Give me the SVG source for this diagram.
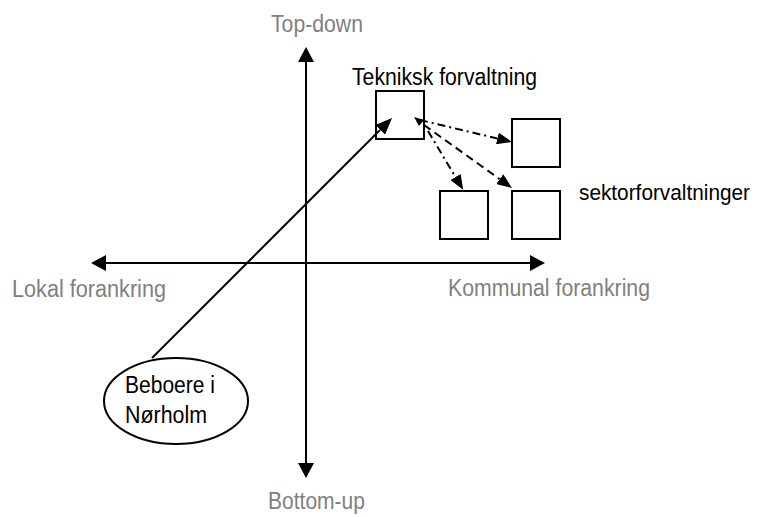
<svg xmlns="http://www.w3.org/2000/svg" width="760" height="517" viewBox="0 0 760 517">
  <style>
    text { font-family: "Liberation Sans Narrow", "Liberation Sans", "Arial Narrow", Arial, sans-serif; font-size: 23.5px; }
    .axis-label { fill: #808080; }
    .label { fill: #000000; }
    .box { fill: #ffffff; stroke: #000000; stroke-width: 2; }
    .axis { stroke: #000000; stroke-width: 2; fill: none; }
    .link { stroke: #000000; stroke-width: 2; fill: none; }
    .dashdot { stroke-dasharray: 8 4 2 4; }
    .dashed { stroke-dasharray: 8 5; }
  </style>
  <defs>
    <marker id="head" viewBox="0 0 15 16" refX="0" refY="8" markerWidth="15" markerHeight="16" markerUnits="userSpaceOnUse" orient="auto-start-reverse">
      <path d="M0,0 L15,8 L0,16 Z" fill="#000000"/>
    </marker>
    <marker id="head-sm" viewBox="0 0 15 12" refX="0" refY="6" markerWidth="15" markerHeight="12" markerUnits="userSpaceOnUse" orient="auto">
      <path d="M0,0 L15,6 L0,12 Z" fill="#000000"/>
    </marker>
    <marker id="head-md" viewBox="0 0 17 14" refX="0" refY="7" markerWidth="17" markerHeight="14" markerUnits="userSpaceOnUse" orient="auto">
      <path d="M0,0 L17,7 L0,14 Z" fill="#000000"/>
    </marker>
  </defs>

  <rect width="760" height="517" fill="#ffffff"/>

  <!-- axes and their labels -->
  <g id="axes">
    <line class="axis" x1="306" y1="62" x2="306" y2="463" marker-start="url(#head)" marker-end="url(#head)"/>
    <line class="axis" x1="106" y1="263" x2="530" y2="263" marker-start="url(#head)" marker-end="url(#head)"/>
    <text class="axis-label" x="271" y="32" textLength="92" lengthAdjust="spacingAndGlyphs">Top-down</text>
    <text class="axis-label" x="268" y="509" textLength="97" lengthAdjust="spacingAndGlyphs">Bottom-up</text>
    <text class="axis-label" x="12" y="297" textLength="154" lengthAdjust="spacingAndGlyphs">Lokal forankring</text>
    <text class="axis-label" x="448" y="296" textLength="202" lengthAdjust="spacingAndGlyphs">Kommunal forankring</text>
  </g>

  <!-- nodes -->
  <g id="teknisk-forvaltning">
    <rect class="box" x="376" y="91" width="48" height="48"/>
    <text class="label" x="352" y="85" textLength="185" lengthAdjust="spacingAndGlyphs">Tekniksk forvaltning</text>
  </g>
  <g id="sektor-1">
    <rect class="box" x="512" y="119" width="48" height="48"/>
  </g>
  <g id="sektor-2">
    <rect class="box" x="440" y="191" width="48" height="48"/>
  </g>
  <g id="sektor-3">
    <rect class="box" x="512" y="191" width="48" height="48"/>
  </g>
  <g id="sektorforvaltninger-label">
    <text class="label" x="579" y="200" style="font-size:21.5px" textLength="171" lengthAdjust="spacingAndGlyphs">sektorforvaltninger</text>
  </g>
  <g id="beboere">
    <ellipse cx="176" cy="401" rx="72" ry="43" fill="#ffffff" stroke="#000000" stroke-width="2"/>
    <text class="label" x="125" y="393" textLength="90" lengthAdjust="spacingAndGlyphs">Beboere i</text>
    <text class="label" x="125" y="423" textLength="82" lengthAdjust="spacingAndGlyphs">Nørholm</text>
  </g>

  <!-- connectors, drawn over the boxes so the heads stay visible -->
  <g id="connectors">
    <line class="link" x1="152" y1="358" x2="380" y2="130" marker-end="url(#head-md)"/>
    <line class="link dashdot" x1="420" y1="120" x2="497.4" y2="138.5" marker-end="url(#head-sm)"/>
    <line class="link dashdot" x1="428" y1="131" x2="455.5" y2="177" marker-end="url(#head-sm)"/>
    <line class="link dashed" x1="424" y1="125" x2="499.8" y2="179.2" marker-end="url(#head-sm)"/>
    <polygon points="414,117 424,120 419,126" fill="#000000"/>
  </g>
</svg>
